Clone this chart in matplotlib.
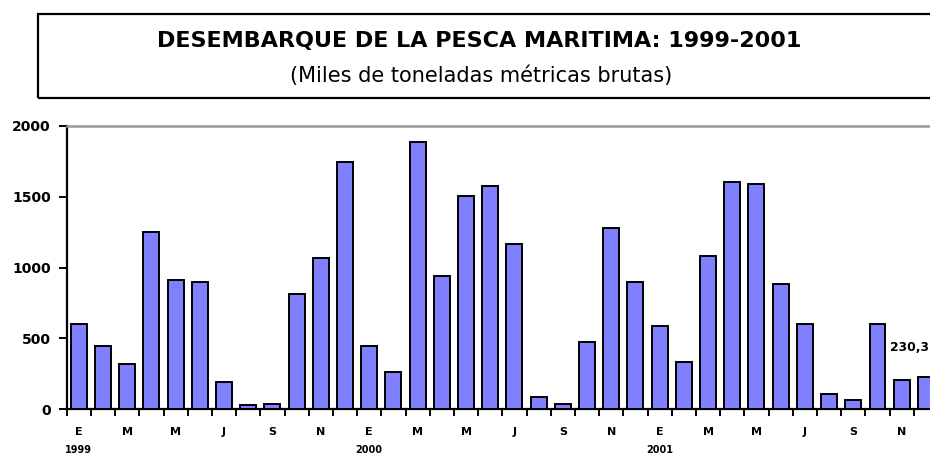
import matplotlib
matplotlib.use("Agg")
import matplotlib.pyplot as plt
from matplotlib.patches import Rectangle

plt.rcParams['font.family'] = ['DejaVu Sans']

months = ["E", "F", "M", "A", "M", "J", "J", "A", "S", "O", "N", "D"] * 3
years = ["1999", "2000", "2001"]
values = [605, 449, 322, 1250, 912, 900, 195, 28, 40, 816, 1069, 1746,
          449, 266, 1888, 943, 1507, 1577, 1168, 85, 40, 477, 1281, 900,
          590, 336, 1084, 1605, 1591, 886, 604, 110, 68, 604, 209, 230.3]
yticks = [0, 500, 1000, 1500, 2000]
label_text = "230,3"

fig = plt.figure(figsize=(9.30, 4.54), dpi=100)
ax = fig.add_axes([66.7/930, 44.7/454, 871.3/930, 283.6/454])

x = list(range(len(values)))
ax.bar(x, values, width=0.66, color="#8080FF", edgecolor="black", linewidth=1.4, zorder=3)
ax.set_xlim(-0.5, len(values) - 0.5)
ax.set_ylim(0, 2000)

ax.spines["right"].set_visible(False)
ax.spines["top"].set_color("#999999")
ax.spines["top"].set_linewidth(1.8)
ax.spines["left"].set_linewidth(1.6)
ax.spines["bottom"].set_linewidth(1.6)

ax.set_yticks(yticks)
ax.set_yticklabels([str(v) for v in yticks], fontsize=10, fontweight="bold")
ax.tick_params(axis="y", length=6, width=1.4, pad=5.5)

ax.set_xticks([i - 0.5 for i in range(len(values) + 1)])
ax.set_xticklabels([])
ax.tick_params(axis="x", which="major", length=5, width=1.4, direction="out")
ax.set_xticks(x[::2], minor=True)
ax.set_xticklabels(months[::2], minor=True, fontsize=8, fontweight="bold")
ax.tick_params(axis="x", which="minor", length=0, pad=13)

for i, yr in enumerate(years):
    ax.text(i * 12, -0.125, yr, transform=ax.get_xaxis_transform(), ha="center",
            va="top", fontsize=7, fontweight="bold")

ax.text(33.53, 413, label_text, ha="left", va="baseline", fontsize=8.8,
        fontweight="bold", zorder=4)

fig.patches.append(Rectangle((37.7/930, (454-97.7)/454), 0.99, 83.7/454,
                             transform=fig.transFigure, fill=False,
                             edgecolor="black", linewidth=1.6))
fig.text(479/930, (454-46.7)/454, "DESEMBARQUE DE LA PESCA MARITIMA: 1999-2001",
         ha="center", va="baseline", fontsize=16, fontweight="bold")
fig.text(481/930, (454-82)/454, "(Miles de toneladas métricas brutas)",
         ha="center", va="baseline", fontsize=15)

fig.savefig("out.png", dpi=100)
